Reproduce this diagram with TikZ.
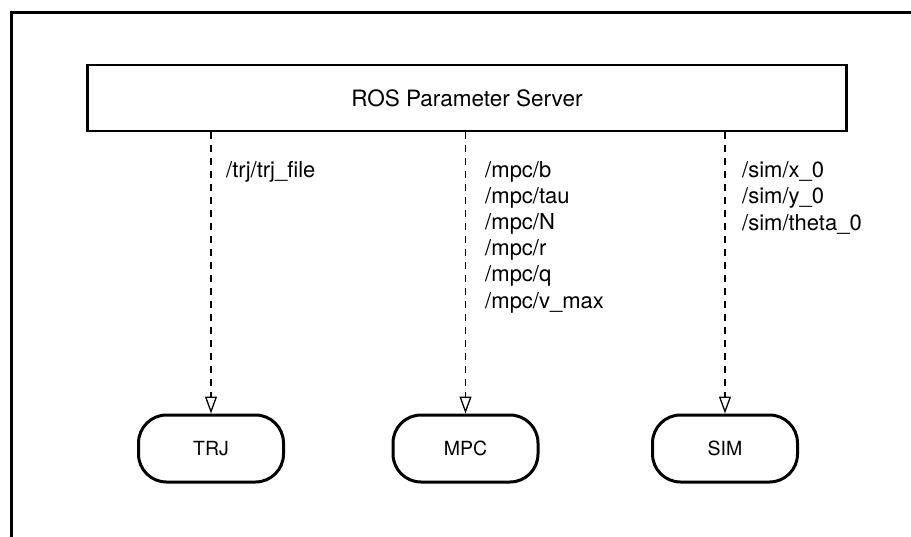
\documentclass[tikz,border=0pt]{standalone}
\usepackage{fontspec}
\setmainfont{TeX Gyre Heros}
\usetikzlibrary{arrows.meta}
\begin{document}
\begin{tikzpicture}[x=1pt,y=-1pt,
  frame/.style={line width=3pt, line join=miter},
  server/.style={draw, line width=2.7pt, minimum width=759pt, minimum height=66pt, inner sep=0pt, font=\fontsize{22.5}{26}\selectfont},
  proc/.style={draw, line width=3pt, rounded corners=28pt, minimum width=145pt, minimum height=67pt, inner sep=0pt, font=\fontsize{19.5}{22}\selectfont},
  param/.style={dash pattern=on 7pt off 6pt, line width=1.5pt, -{Triangle[open, length=17pt, width=12pt, line width=1.3pt]}},
  lbl/.style={anchor=base west, align=left, inner sep=0pt, font=\fontsize{22}{26.2}\selectfont}]
\useasboundingbox (0,0) rectangle (911,536);
\draw[frame] (915,12) -- (11,12) -- (11,540);
\node[server] (srv) at (467,98) {ROS Parameter Server};
\node[proc] (trj) at (211,448.5) {TRJ};
\node[proc] (mpc) at (465.5,448.5) {MPC};
\node[proc] (sim) at (725,448.5) {SIM};
\draw[param] (srv.south -| trj.north) -- (trj.north);
\draw[param] (srv.south -| mpc.north) -- (mpc.north);
\draw[param] (srv.south -| sim.north) -- (sim.north);
\node[lbl] (ltrj) at (226,177) {/trj/trj\_file};
\node[lbl] (lmpc) at (485,308) {/mpc/b\\/mpc/tau\\/mpc/N\\/mpc/r\\/mpc/q\\/mpc/v\_max};
\node[lbl] (lsim) at (742,230) {/sim/x\_0\\/sim/y\_0\\/sim/theta\_0};
\end{tikzpicture}
\end{document}
